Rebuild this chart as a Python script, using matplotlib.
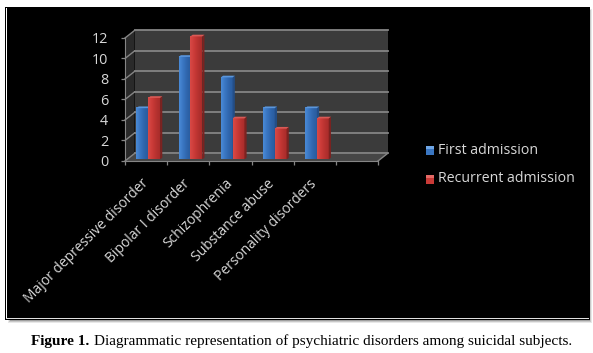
import numpy as np
import matplotlib
matplotlib.use("Agg")
import matplotlib.pyplot as plt
from matplotlib.patches import Polygon, Rectangle
from matplotlib.transforms import Affine2D, IdentityTransform
from matplotlib.colors import LinearSegmentedColormap

categories = ["Major depressive disorder", "Bipolar I disorder", "Schizophrenia",
              "Substance abuse", "Personality disorders", ""]
first_admission = [5, 10, 8, 5, 5]
recurrent_admission = [6, 12, 4, 3, 4]
y_ticks = [0, 2, 4, 6, 8, 10, 12]
series_names = ["First admission", "Recurrent admission"]
caption_bold = "Figure 1."
caption_rest = "Diagrammatic representation of psychiatric disorders among suicidal subjects."

W, H = 593, 353
fig = plt.figure(figsize=(W / 100, H / 100), dpi=100, facecolor="white")
SANS = ["Open Sans", "DejaVu Sans"]
TXT = "#d8d8d8"
PX = IdentityTransform()


def px_axes(x0, y0, x1, y1, **kw):
    return fig.add_axes([x0 / W, 1 - y1 / H, (x1 - x0) / W, (y1 - y0) / H], **kw)


# page layer: shadow, frame, black panel
bg = px_axes(0, 0, W, H)
bg.set_xlim(0, W)
bg.set_ylim(H, 0)
bg.axis("off")
for i, c in enumerate(["#e8e8e8", "#c8c8c8", "#a0a0a0"]):
    bg.add_patch(Rectangle((8 + i, 9 + i), 584 - 2 * i, 314 - 2 * i, fc=c, ec="none"))
bg.add_patch(Rectangle((5, 7), 585, 313, fc="black", ec="none"))
bg.add_patch(Rectangle((6, 8), 1, 311, fc="white", ec="none"))
bg.add_patch(Rectangle((6, 318), 583, 1, fc="#e0e0e0", ec="none"))

# front plane of the 3D chart
FX0, FX1, FY0, FY1 = 125, 378, 38, 161
ax = px_axes(FX0, FY0, FX1, FY1)
ax.patch.set_visible(False)
n = len(categories)
ax.set_xlim(0, n)
ax.set_ylim(0, 12)
for s in ax.spines.values():
    s.set_visible(False)
DX, DY = 9.5, 7.5   # depth offset in pixels, to the right and upward


def depth(tr):
    return tr + Affine2D().translate(DX, DY)


tr = ax.transData
GRID = "#858585"
# walls and floor
ax.add_patch(Polygon([(0, 0), (0, 12), (n, 12), (n, 0)], closed=True, fc="#3b3b3b", ec="none",
                     transform=depth(tr), zorder=1, clip_on=False))
lp = tr.transform([(0, 0), (0, 12)])
ax.add_patch(Polygon([lp[0], lp[1], lp[1] + [DX, DY], lp[0] + [DX, DY]], closed=True,
                     fc="#2a2a2a", ec="none", transform=PX, zorder=1, clip_on=False))
fp = tr.transform([(0, 0), (n, 0)])
ax.add_patch(Polygon([fp[0], fp[1], fp[1] + [DX, DY], fp[0] + [DX, DY]], closed=True,
                     fc="#464646", ec="none", transform=PX, zorder=1, clip_on=False))
# gridlines: diagonal on the side wall, then across the back wall
for v in y_ticks:
    p = tr.transform((0, v))
    ax.plot([p[0], p[0] + DX], [p[1], p[1] + DY], color=GRID, lw=1.0,
            transform=PX, zorder=2, clip_on=False)
    ax.plot([0, n], [v, v], color=GRID, lw=1.3, transform=depth(tr), zorder=2, clip_on=False)
# axis lines and ticks
ax.spines["left"].set_visible(True)
ax.spines["bottom"].set_visible(True)
ax.spines["left"].set_color(GRID)
ax.spines["bottom"].set_color(GRID)
bp = tr.transform((n, 0))
ax.plot([bp[0], bp[0] + DX], [bp[1], bp[1] + DY], color=GRID, lw=1.0, transform=PX,
        zorder=2, clip_on=False)
ax.set_yticks(y_ticks)
ax.set_xticks(np.arange(n + 1))
ax.set_xticklabels([])
ax.tick_params(axis="both", color=GRID, length=3, width=0.9)
ax.tick_params(axis="y", labelsize=10.4, labelcolor=TXT, pad=9)
for lab in ax.get_yticklabels():
    lab.set_family(SANS)

# bars
blue = LinearSegmentedColormap.from_list("b", ["#4a8ad6", "#3a76c2", "#2f66ad", "#2a5c9e"])
red = LinearSegmentedColormap.from_list("r", ["#d84a47", "#cc3b38", "#b83230", "#a82c2a"])
BW = 0.28
base_shift = (2.2, 1.6)
sx, sy = 2.2, 1.7
for idx, (vals, off, cm, side, top) in enumerate([
        (first_admission, -BW, blue, "#234e87", "#5a96dc"),
        (recurrent_admission, 0.0, red, "#7c2220", "#d85a56")]):
    for i, v in enumerate(vals):
        x0 = i + 0.5 + off
        x1 = x0 + BW
        bt = tr + Affine2D().translate(*base_shift)
        grad = np.linspace(0, 1, 32).reshape(1, -1)
        ax.imshow(grad, extent=(x0, x1, 0, v), aspect="auto", cmap=cm, vmin=0, vmax=1,
                  zorder=5 + idx, transform=bt, clip_on=False)
        a = bt.transform((x1, 0))
        b = bt.transform((x1, v))
        c = bt.transform((x0, v))
        ax.add_patch(Polygon([a, b, b + [sx, sy], a + [sx, sy]], closed=True, fc=side, ec="none",
                             transform=PX, zorder=5 + idx, clip_on=False))
        ax.add_patch(Polygon([c, b, b + [sx, sy], c + [sx, sy]], closed=True, fc=top, ec="none",
                             transform=PX, zorder=5 + idx, clip_on=False))
ax.set_xlim(0, n)
ax.set_ylim(0, 12)

# category labels
for i, name in enumerate(categories):
    if name:
        ax.annotate(name, xy=(i + 0.5, 0), xytext=(-4, -11), textcoords="offset points",
                    rotation=45, rotation_mode="anchor", ha="right", va="top",
                    color=TXT, fontsize=10, family=SANS)

# legend
for name, yy, c1, c2 in zip(series_names, [150, 179], ["#3a76c2", "#c93a37"], ["#6fa6e6", "#e46a66"]):
    bg.add_patch(Rectangle((426, yy - 4.5), 8, 9, fc=c1, ec="none"))
    bg.add_patch(Rectangle((426, yy - 4.5), 8, 3, fc=c2, ec="none"))
    bg.text(438.5, yy, name, color=TXT, fontsize=10.2, family=SANS, va="center", ha="left")

# caption
bg.text(31, 341, caption_bold, color="black", fontsize=11, family="Liberation Serif",
        weight="bold", va="center", ha="left")
bg.text(94, 341, caption_rest, color="black", fontsize=11, family="Liberation Serif",
        va="center", ha="left")

fig.savefig("out.png", dpi=100, facecolor="white")
